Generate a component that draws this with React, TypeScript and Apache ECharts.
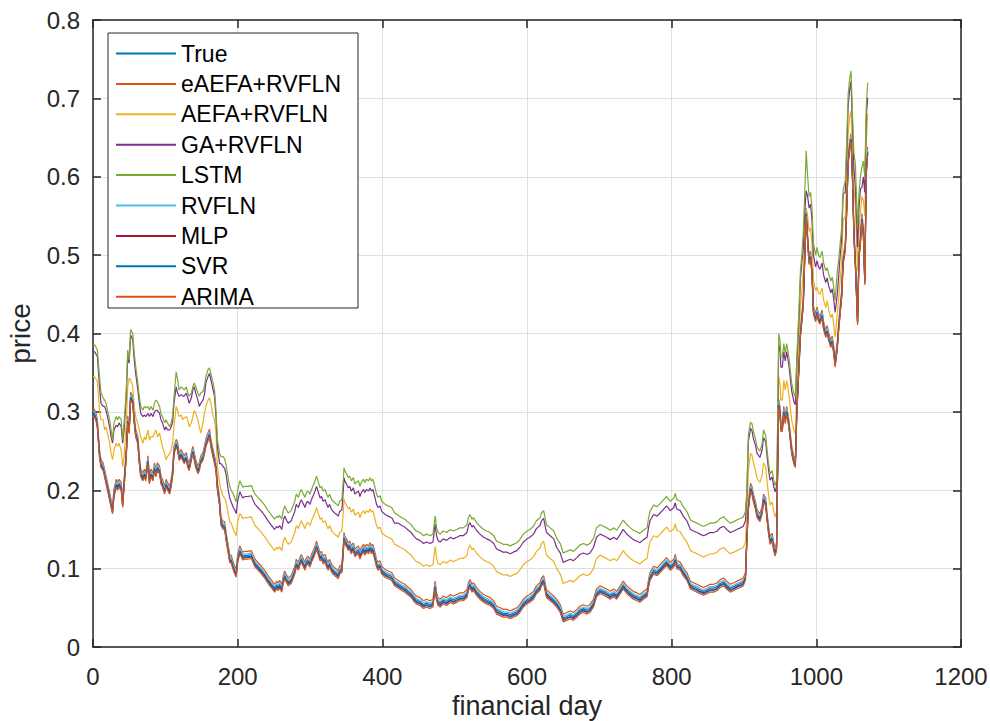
import React, { useEffect, useRef } from "react";
import * as echarts from "echarts";

// financial day of each sampled point
const days = [
  0,2,4,6,9,11,14,16,18,20,23,25,27,29,32,34,36,39,41,43,46,48,50,52,55,57,59,62,64,66,69,71,73,76,78,80,83,85,87,89,92,94,96,99,101,103,106,108,110,112,115,117,119,122,124,126,129,131,133,136,138,140,142,145,147,149,152,154,156,159,161,163,166,168,170,172,175,177,180,
  182,184,187,189,191,194,196,198,200,203,205,207,210,214,219,221,224,228,233,238,242,247,251,254,256,258,261,263,265,268,270,274,279,281,284,286,288,291,293,295,297,300,302,304,307,309,311,314,316,318,321,323,325,327,330,332,334,337,339,341,344,346,347,348,351,353,355,357,360,362,364,367,369,371,374,376,378,381,383,385,387,390,392,394,397,399,404,408,413,417,
  422,427,431,436,440,443,447,452,457,461,466,470,473,475,477,480,484,489,494,498,503,507,512,517,519,521,524,526,530,535,540,544,549,554,558,563,567,572,577,581,586,590,595,600,604,609,613,618,620,623,625,627,632,637,641,646,648,650,655,660,664,669,673,678,683,687,692,696,701,706,710,715,720,724,729,733,738,743,747,752,756,761,766,768,770,775,780,784,789,793,798,803,805,807,812,816,821,826,830,835,839,844,849,853,858,863,867,872,876,881,886,890,895,899,902,
  904,906,909,911,913,916,918,922,925,927,930,932,934,936,939,941,943,945,946,948,950,951,953,955,957,959,962,964,966,969,971,973,976,978,980,982,984,986,988,990,992,994,996,999,1001,1003,1005,1008,1010,1013,1015,1017,1020,1022,1024,1026,1029,1031,1033,1035,1037,1040,1042,1044,1046,1048,1050,1052,1054,1057,1059,1061,1063,1065,1067,1069,1071,
];

const trueVals = [
  .3,.298,.294,.285,.247,.234,.23,.222,.213,.205,.192,.183,.175,.196,.209,.205,.209,.205,.183,.209,.247,.29,.277,.32,.315,.29,.273,.264,.239,.222,.217,.222,.217,.239,.213,.222,.217,.23,.222,.23,.226,.213,.209,.2,.209,.205,.2,.209,.222,.251,.26,.256,.243,.247,.243,.239,.243,.234,.23,.243,.251,.243,.234,.226,.23,.239,.243,.251,.26,.268,.273,.26,.247,.239,.23,.205,.185,.16,.155,
  .155,.141,.124,.113,.112,.103,.098,.094,.113,.124,.12,.116,.117,.117,.118,.113,.107,.103,.098,.092,.086,.08,.075,.079,.077,.08,.075,.086,.092,.086,.083,.086,.098,.107,.103,.109,.113,.107,.103,.109,.111,.107,.113,.117,.124,.13,.124,.115,.117,.111,.113,.107,.103,.107,.1,.098,.096,.094,.092,.098,.1,.124,.141,.137,.132,.128,.13,.124,.128,.12,.122,.124,.117,.122,.126,.122,.126,.124,.128,.124,.126,.115,.107,.103,.105,.098,.094,.092,.09,.083,
  .08,.077,.075,.071,.068,.064,.06,.058,.054,.056,.054,.056,.079,.064,.058,.056,.06,.058,.062,.06,.062,.064,.064,.068,.077,.081,.075,.077,.071,.066,.062,.06,.058,.054,.047,.045,.043,.043,.041,.043,.045,.049,.056,.06,.062,.066,.073,.077,.083,.086,.077,.068,.064,.06,.056,.049,.043,.037,.039,.041,.039,.043,.047,.049,.047,.049,.056,.069,.073,.071,.069,.066,.069,.066,.073,.079,.073,.069,.066,.064,.062,.066,.069,.081,.09,.098,.096,.1,.105,.109,.103,.107,.113,.105,.103,.096,.09,.079,.077,.075,.073,.071,.073,.075,.075,.077,.081,.083,.079,.075,.077,.079,.081,.083,.09,
  .14,.179,.204,.2,.19,.18,.17,.165,.174,.19,.185,.165,.149,.136,.14,.128,.121,.128,.2,.311,.3,.28,.28,.302,.29,.302,.285,.268,.251,.238,.234,.302,.36,.4,.42,.44,.5,.555,.52,.493,.5,.48,.43,.42,.429,.42,.417,.425,.41,.4,.405,.396,.387,.392,.379,.362,.385,.41,.43,.45,.493,.51,.56,.62,.64,.65,.6,.527,.49,.416,.5,.52,.548,.53,.467,.607,.633,
];

const eaefaVals = [
  .305,.303,.299,.29,.252,.239,.235,.227,.218,.21,.197,.188,.18,.201,.214,.21,.214,.21,.188,.214,.252,.295,.282,.325,.32,.295,.278,.269,.244,.227,.222,.227,.222,.244,.218,.227,.222,.235,.227,.235,.231,.218,.214,.205,.214,.21,.205,.214,.227,.256,.265,.261,.248,.252,.248,.244,.248,.239,.235,.248,.256,.248,.239,.231,.235,.244,.248,.256,.265,.273,.278,.265,.252,.244,.235,.21,.19,.165,.16,
  .16,.146,.129,.118,.117,.108,.103,.099,.118,.129,.125,.121,.122,.122,.123,.118,.112,.108,.103,.097,.091,.085,.08,.084,.082,.085,.08,.091,.097,.091,.088,.091,.103,.112,.108,.114,.118,.112,.108,.114,.116,.112,.118,.122,.129,.135,.129,.12,.122,.116,.118,.112,.108,.112,.105,.103,.101,.099,.097,.103,.105,.129,.146,.142,.137,.133,.135,.129,.133,.125,.127,.129,.122,.127,.131,.127,.131,.129,.133,.129,.131,.12,.112,.108,.11,.103,.099,.097,.095,.088,
  .085,.082,.08,.076,.073,.069,.065,.063,.059,.061,.059,.061,.084,.069,.063,.061,.065,.063,.067,.065,.067,.069,.069,.073,.082,.086,.08,.082,.076,.071,.067,.065,.063,.059,.052,.05,.048,.048,.046,.048,.05,.054,.061,.065,.067,.071,.078,.082,.088,.091,.082,.073,.069,.065,.061,.054,.048,.042,.044,.046,.044,.048,.052,.054,.052,.054,.061,.074,.078,.076,.074,.071,.074,.071,.078,.084,.078,.074,.071,.069,.067,.071,.074,.086,.095,.103,.101,.105,.11,.114,.108,.112,.118,.11,.108,.101,.095,.084,.082,.08,.078,.076,.078,.08,.08,.082,.086,.088,.084,.08,.082,.084,.086,.088,.095,
  .145,.184,.209,.205,.195,.185,.175,.17,.179,.195,.19,.17,.154,.141,.145,.133,.126,.133,.205,.316,.305,.285,.285,.307,.295,.307,.29,.273,.256,.243,.239,.307,.365,.405,.425,.445,.505,.56,.525,.498,.505,.485,.435,.425,.434,.425,.422,.43,.415,.405,.41,.401,.392,.397,.384,.367,.39,.415,.435,.455,.498,.515,.565,.625,.645,.655,.605,.532,.495,.421,.505,.525,.553,.535,.472,.612,.638,
];

const aefaVals = [
  .345,.345,.342,.339,.302,.29,.29,.277,.281,.273,.26,.247,.239,.251,.26,.256,.26,.251,.23,.243,.286,.332,.343,.341,.332,.307,.294,.285,.277,.268,.26,.268,.264,.277,.264,.268,.268,.273,.277,.268,.273,.264,.256,.247,.239,.243,.247,.251,.26,.281,.307,.302,.294,.296,.29,.292,.294,.29,.281,.286,.294,.302,.298,.29,.281,.273,.286,.298,.307,.315,.318,.311,.294,.29,.273,.23,.209,.2,.192,
  .19,.185,.17,.16,.158,.15,.146,.142,.16,.17,.168,.164,.165,.165,.166,.161,.155,.151,.146,.14,.134,.128,.123,.127,.125,.128,.123,.134,.14,.134,.131,.134,.146,.155,.151,.157,.161,.155,.151,.157,.159,.155,.161,.165,.172,.178,.172,.163,.165,.159,.161,.155,.151,.155,.148,.146,.144,.142,.14,.146,.148,.172,.189,.185,.18,.176,.178,.172,.176,.168,.17,.172,.165,.17,.174,.17,.174,.172,.176,.172,.174,.163,.155,.151,.153,.146,.142,.14,.138,.131,
  .129,.126,.124,.12,.117,.113,.109,.107,.103,.105,.103,.105,.128,.113,.107,.105,.109,.107,.111,.109,.111,.113,.113,.117,.126,.13,.124,.126,.12,.115,.111,.109,.107,.103,.096,.094,.092,.092,.09,.092,.094,.098,.105,.109,.111,.115,.122,.126,.132,.135,.126,.117,.113,.109,.1,.093,.087,.081,.083,.085,.083,.087,.091,.093,.091,.093,.1,.113,.117,.115,.113,.11,.113,.11,.117,.123,.117,.113,.11,.108,.106,.11,.113,.125,.134,.142,.14,.144,.149,.153,.147,.151,.157,.149,.147,.14,.134,.123,.121,.119,.117,.115,.117,.119,.119,.121,.125,.127,.123,.119,.121,.123,.125,.127,.134,
  .17,.225,.247,.245,.235,.225,.215,.21,.219,.235,.23,.21,.194,.181,.185,.173,.166,.173,.2,.345,.335,.315,.315,.34,.328,.34,.323,.306,.289,.276,.272,.33,.39,.435,.455,.48,.53,.56,.55,.53,.535,.515,.468,.455,.459,.452,.45,.458,.443,.433,.442,.43,.42,.425,.412,.395,.425,.445,.47,.49,.544,.55,.595,.655,.675,.684,.635,.585,.561,.48,.53,.555,.575,.57,.55,.645,.68,
];

const gaVals = [
  .377,.377,.374,.371,.332,.311,.307,.307,.302,.294,.281,.268,.26,.277,.283,.281,.286,.281,.26,.277,.32,.371,.362,.398,.392,.366,.349,.328,.311,.298,.294,.296,.294,.298,.294,.298,.294,.3,.302,.302,.298,.29,.286,.277,.281,.277,.277,.281,.286,.311,.332,.324,.32,.322,.32,.32,.324,.318,.311,.318,.328,.332,.324,.315,.307,.311,.315,.322,.337,.345,.349,.341,.328,.32,.294,.256,.234,.234,.23,
  .228,.22,.2,.19,.185,.178,.175,.17,.186,.198,.194,.19,.192,.192,.193,.188,.182,.178,.173,.167,.161,.155,.15,.154,.152,.155,.15,.161,.167,.161,.158,.161,.173,.182,.178,.184,.188,.182,.178,.184,.186,.182,.188,.192,.199,.205,.199,.19,.192,.186,.188,.182,.178,.182,.175,.173,.171,.169,.167,.173,.175,.199,.216,.212,.207,.203,.205,.199,.203,.195,.197,.199,.192,.197,.201,.197,.201,.199,.203,.199,.201,.19,.182,.178,.18,.173,.169,.167,.165,.158,
  .158,.155,.153,.149,.146,.142,.138,.136,.132,.134,.132,.134,.157,.142,.136,.134,.138,.136,.14,.138,.14,.142,.142,.146,.155,.159,.153,.155,.149,.144,.14,.138,.136,.132,.125,.123,.121,.121,.119,.121,.123,.127,.134,.138,.14,.144,.151,.155,.161,.164,.155,.146,.142,.138,.127,.12,.114,.108,.11,.112,.11,.114,.118,.12,.118,.12,.127,.14,.144,.142,.14,.137,.14,.137,.144,.15,.144,.14,.137,.135,.133,.137,.14,.152,.161,.169,.167,.171,.176,.18,.174,.178,.184,.176,.174,.167,.161,.15,.148,.146,.144,.142,.144,.146,.146,.148,.152,.154,.15,.146,.148,.15,.152,.154,.161,
  .195,.262,.279,.276,.266,.257,.247,.242,.251,.267,.262,.242,.226,.213,.217,.205,.198,.205,.24,.387,.377,.357,.357,.377,.365,.377,.36,.343,.326,.313,.309,.36,.42,.47,.49,.51,.555,.582,.575,.56,.565,.545,.5,.485,.493,.485,.482,.49,.475,.465,.471,.461,.452,.457,.444,.427,.45,.475,.5,.52,.578,.58,.63,.69,.71,.722,.665,.61,.586,.51,.56,.585,.586,.6,.58,.675,.701,
];

const lstmVals = [
  .386,.386,.383,.379,.345,.324,.318,.315,.311,.302,.29,.277,.264,.286,.294,.29,.294,.29,.264,.286,.328,.379,.366,.405,.4,.375,.358,.337,.32,.307,.302,.307,.305,.307,.302,.307,.302,.311,.315,.313,.307,.298,.294,.286,.29,.286,.281,.286,.294,.32,.351,.341,.328,.332,.33,.328,.332,.324,.32,.324,.332,.337,.332,.324,.32,.324,.326,.332,.345,.354,.356,.349,.337,.328,.302,.264,.247,.243,.243,
  .24,.232,.215,.205,.2,.195,.19,.185,.2,.212,.208,.204,.205,.205,.206,.201,.195,.191,.186,.18,.174,.168,.163,.167,.165,.168,.163,.174,.18,.174,.171,.174,.186,.195,.191,.197,.201,.195,.191,.197,.199,.195,.201,.205,.212,.218,.212,.203,.205,.199,.201,.195,.191,.195,.188,.186,.184,.182,.18,.186,.188,.212,.229,.225,.22,.216,.218,.212,.216,.208,.21,.212,.205,.21,.214,.21,.214,.212,.216,.212,.214,.203,.195,.191,.193,.186,.182,.18,.178,.171,
  .168,.165,.163,.159,.156,.152,.148,.146,.142,.144,.142,.144,.167,.152,.146,.144,.148,.146,.15,.148,.15,.152,.152,.156,.165,.169,.163,.165,.159,.154,.15,.148,.146,.142,.135,.133,.131,.131,.129,.131,.133,.137,.144,.148,.15,.154,.161,.165,.171,.174,.165,.156,.152,.148,.139,.132,.126,.12,.122,.124,.122,.126,.13,.132,.13,.132,.139,.152,.156,.154,.152,.149,.152,.149,.156,.162,.156,.152,.149,.147,.145,.149,.152,.164,.173,.181,.179,.183,.188,.192,.186,.19,.196,.188,.186,.179,.173,.162,.16,.158,.156,.154,.156,.158,.158,.16,.164,.166,.162,.158,.16,.162,.164,.166,.173,
  .2,.27,.287,.285,.275,.265,.255,.25,.259,.277,.27,.25,.234,.221,.225,.213,.206,.213,.25,.4,.39,.37,.37,.387,.375,.387,.37,.353,.336,.323,.319,.37,.43,.48,.5,.53,.58,.633,.6,.575,.58,.56,.515,.5,.51,.5,.497,.505,.49,.48,.484,.476,.467,.472,.459,.442,.48,.495,.515,.535,.582,.595,.645,.705,.725,.735,.68,.63,.616,.535,.58,.6,.612,.62,.6,.69,.72,
];

const rvflnVals = [
  .302,.3,.296,.287,.249,.236,.232,.224,.215,.207,.194,.185,.177,.198,.211,.207,.211,.207,.185,.211,.249,.292,.279,.322,.317,.292,.275,.266,.241,.224,.219,.224,.219,.241,.215,.224,.219,.232,.224,.232,.228,.215,.211,.202,.211,.207,.202,.211,.224,.253,.262,.258,.245,.249,.245,.241,.245,.236,.232,.245,.253,.245,.236,.228,.232,.241,.245,.253,.262,.27,.275,.262,.249,.241,.232,.207,.187,.162,.157,
  .157,.143,.126,.115,.114,.105,.1,.096,.115,.126,.122,.118,.119,.119,.12,.115,.109,.105,.1,.094,.088,.082,.077,.081,.079,.082,.077,.088,.094,.088,.085,.088,.1,.109,.105,.111,.115,.109,.105,.111,.113,.109,.115,.119,.126,.132,.126,.117,.119,.113,.115,.109,.105,.109,.102,.1,.098,.096,.094,.1,.102,.126,.143,.139,.134,.13,.132,.126,.13,.122,.124,.126,.119,.124,.128,.124,.128,.126,.13,.126,.128,.117,.109,.105,.107,.1,.096,.094,.092,.085,
  .082,.079,.077,.073,.07,.066,.062,.06,.056,.058,.056,.058,.081,.066,.06,.058,.062,.06,.064,.062,.064,.066,.066,.07,.079,.083,.077,.079,.073,.068,.064,.062,.06,.056,.049,.047,.045,.045,.043,.045,.047,.051,.058,.062,.064,.068,.075,.079,.085,.088,.079,.07,.066,.062,.058,.051,.045,.039,.041,.043,.041,.045,.049,.051,.049,.051,.058,.071,.075,.073,.071,.068,.071,.068,.075,.081,.075,.071,.068,.066,.064,.068,.071,.083,.092,.1,.098,.102,.107,.111,.105,.109,.115,.107,.105,.098,.092,.081,.079,.077,.075,.073,.075,.077,.077,.079,.083,.085,.081,.077,.079,.081,.083,.085,.092,
  .142,.181,.206,.202,.192,.182,.172,.167,.176,.192,.187,.167,.151,.138,.142,.13,.123,.13,.202,.313,.302,.282,.282,.304,.292,.304,.287,.27,.253,.24,.236,.304,.362,.402,.422,.442,.502,.557,.522,.495,.502,.482,.432,.422,.431,.422,.419,.427,.412,.402,.407,.398,.389,.394,.381,.364,.387,.412,.432,.452,.495,.512,.562,.622,.642,.652,.602,.529,.492,.418,.502,.522,.55,.532,.469,.609,.635,
];

const mlpVals = [
  .298,.296,.292,.283,.245,.232,.228,.22,.211,.203,.19,.181,.173,.194,.207,.203,.207,.203,.181,.207,.245,.288,.275,.318,.313,.288,.271,.262,.237,.22,.215,.22,.215,.237,.211,.22,.215,.228,.22,.228,.224,.211,.207,.198,.207,.203,.198,.207,.22,.249,.258,.254,.241,.245,.241,.237,.241,.232,.228,.241,.249,.241,.232,.224,.228,.237,.241,.249,.258,.266,.271,.258,.245,.237,.228,.203,.183,.158,.153,
  .153,.139,.122,.111,.11,.101,.096,.092,.111,.122,.118,.114,.115,.115,.116,.111,.105,.101,.096,.09,.084,.078,.073,.077,.075,.078,.073,.084,.09,.084,.081,.084,.096,.105,.101,.107,.111,.105,.101,.107,.109,.105,.111,.115,.122,.128,.122,.113,.115,.109,.111,.105,.101,.105,.098,.096,.094,.092,.09,.096,.098,.122,.139,.135,.13,.126,.128,.122,.126,.118,.12,.122,.115,.12,.124,.12,.124,.122,.126,.122,.124,.113,.105,.101,.103,.096,.092,.09,.088,.081,
  .078,.075,.073,.069,.066,.062,.058,.056,.052,.054,.052,.054,.077,.062,.056,.054,.058,.056,.06,.058,.06,.062,.062,.066,.075,.079,.073,.075,.069,.064,.06,.058,.056,.052,.045,.043,.041,.041,.039,.041,.043,.047,.054,.058,.06,.064,.071,.075,.081,.084,.075,.066,.062,.058,.054,.047,.041,.035,.037,.039,.037,.041,.045,.047,.045,.047,.054,.067,.071,.069,.067,.064,.067,.064,.071,.077,.071,.067,.064,.062,.06,.064,.067,.079,.088,.096,.094,.098,.103,.107,.101,.105,.111,.103,.101,.094,.088,.077,.075,.073,.071,.069,.071,.073,.073,.075,.079,.081,.077,.073,.075,.077,.079,.081,.088,
  .138,.177,.202,.198,.188,.178,.168,.163,.172,.188,.183,.163,.147,.134,.138,.126,.119,.126,.198,.309,.298,.278,.278,.3,.288,.3,.283,.266,.249,.236,.232,.3,.358,.398,.418,.438,.498,.553,.518,.491,.498,.478,.428,.418,.427,.418,.415,.423,.408,.398,.403,.394,.385,.39,.377,.36,.383,.408,.428,.448,.491,.508,.558,.618,.638,.648,.598,.525,.488,.414,.498,.518,.546,.528,.465,.605,.631,
];

const svrVals = [
  .297,.295,.291,.282,.244,.231,.227,.219,.21,.202,.189,.18,.172,.193,.206,.202,.206,.202,.18,.206,.244,.287,.274,.317,.312,.287,.27,.261,.236,.219,.214,.219,.214,.236,.21,.219,.214,.227,.219,.227,.223,.21,.206,.197,.206,.202,.197,.206,.219,.248,.257,.253,.24,.244,.24,.236,.24,.231,.227,.24,.248,.24,.231,.223,.227,.236,.24,.248,.257,.265,.27,.257,.244,.236,.227,.202,.182,.157,.152,
  .152,.138,.121,.11,.109,.1,.095,.091,.11,.121,.117,.113,.114,.114,.115,.11,.104,.1,.095,.089,.083,.077,.072,.076,.074,.077,.072,.083,.089,.083,.08,.083,.095,.104,.1,.106,.11,.104,.1,.106,.108,.104,.11,.114,.121,.127,.121,.112,.114,.108,.11,.104,.1,.104,.097,.095,.093,.091,.089,.095,.097,.121,.138,.134,.129,.125,.127,.121,.125,.117,.119,.121,.114,.119,.123,.119,.123,.121,.125,.121,.123,.112,.104,.1,.102,.095,.091,.089,.087,.08,
  .077,.074,.072,.068,.065,.061,.057,.055,.051,.053,.051,.053,.076,.061,.055,.053,.057,.055,.059,.057,.059,.061,.061,.065,.074,.078,.072,.074,.068,.063,.059,.057,.055,.051,.044,.042,.04,.04,.038,.04,.042,.046,.053,.057,.059,.063,.07,.074,.08,.083,.074,.065,.061,.057,.053,.046,.04,.034,.036,.038,.036,.04,.044,.046,.044,.046,.053,.066,.07,.068,.066,.063,.066,.063,.07,.076,.07,.066,.063,.061,.059,.063,.066,.078,.087,.095,.093,.097,.102,.106,.1,.104,.11,.102,.1,.093,.087,.076,.074,.072,.07,.068,.07,.072,.072,.074,.078,.08,.076,.072,.074,.076,.078,.08,.087,
  .137,.176,.201,.197,.187,.177,.167,.162,.171,.187,.182,.162,.146,.133,.137,.125,.118,.125,.197,.308,.297,.277,.277,.299,.287,.299,.282,.265,.248,.235,.231,.299,.357,.397,.417,.437,.497,.552,.517,.49,.497,.477,.427,.417,.426,.417,.414,.422,.407,.397,.402,.393,.384,.389,.376,.359,.382,.407,.427,.447,.49,.507,.557,.617,.637,.647,.597,.524,.487,.413,.497,.517,.545,.527,.464,.604,.63,
];

const arimaVals = [
  .295,.293,.289,.28,.242,.229,.225,.217,.208,.2,.187,.178,.17,.191,.204,.2,.204,.2,.178,.204,.242,.285,.272,.315,.31,.285,.268,.259,.234,.217,.212,.217,.212,.234,.208,.217,.212,.225,.217,.225,.221,.208,.204,.195,.204,.2,.195,.204,.217,.246,.255,.251,.238,.242,.238,.234,.238,.229,.225,.238,.246,.238,.229,.221,.225,.234,.238,.246,.255,.263,.268,.255,.242,.234,.225,.2,.18,.155,.15,
  .15,.136,.119,.108,.107,.098,.093,.089,.108,.119,.115,.111,.112,.112,.113,.108,.102,.098,.093,.087,.081,.075,.07,.074,.072,.075,.07,.081,.087,.081,.078,.081,.093,.102,.098,.104,.108,.102,.098,.104,.106,.102,.108,.112,.119,.125,.119,.11,.112,.106,.108,.102,.098,.102,.095,.093,.091,.089,.087,.093,.095,.119,.136,.132,.127,.123,.125,.119,.123,.115,.117,.119,.112,.117,.121,.117,.121,.119,.123,.119,.121,.11,.102,.098,.1,.093,.089,.087,.085,.078,
  .075,.072,.07,.066,.063,.059,.055,.053,.049,.051,.049,.051,.074,.059,.053,.051,.055,.053,.057,.055,.057,.059,.059,.063,.072,.076,.07,.072,.066,.061,.057,.055,.053,.049,.042,.04,.038,.038,.036,.038,.04,.044,.051,.055,.057,.061,.068,.072,.078,.081,.072,.063,.059,.055,.051,.044,.038,.032,.034,.036,.034,.038,.042,.044,.042,.044,.051,.064,.068,.066,.064,.061,.064,.061,.068,.074,.068,.064,.061,.059,.057,.061,.064,.076,.085,.093,.091,.095,.1,.104,.098,.102,.108,.1,.098,.091,.085,.074,.072,.07,.068,.066,.068,.07,.07,.072,.076,.078,.074,.07,.072,.074,.076,.078,.085,
  .135,.174,.199,.195,.185,.175,.165,.16,.169,.185,.18,.16,.144,.131,.135,.123,.116,.123,.195,.306,.295,.275,.275,.297,.285,.297,.28,.263,.246,.233,.229,.297,.355,.395,.415,.435,.495,.55,.515,.488,.495,.475,.425,.415,.424,.415,.412,.42,.405,.395,.4,.391,.382,.387,.374,.357,.38,.405,.425,.445,.488,.505,.555,.615,.635,.645,.595,.522,.485,.411,.495,.515,.543,.525,.462,.602,.628,
];

const seriesNames = ["True", "eAEFA+RVFLN", "AEFA+RVFLN", "GA+RVFLN", "LSTM", "RVFLN", "MLP", "SVR", "ARIMA"];
const seriesColors = ["#0072BD", "#D95319", "#EDB120", "#7E2F8E", "#77AC30", "#4DBEEE", "#A2142F", "#0072BD", "#D95319"];
const xMin = 0, xMax = 1200, xStep = 200;
const yMin = 0, yMax = 0.8, yStep = 0.1;

const FONT = '"Liberation Sans", Arial, Helvetica, sans-serif';
const INK = "#262626";

export default function App() {
  const ref = useRef<HTMLDivElement>(null);
  useEffect(() => {
    document.body.style.margin = "0";
    const chart = echarts.init(ref.current!, null, { renderer: "svg" });
    const allVals = [trueVals, eaefaVals, aefaVals, gaVals, lstmVals, rvflnVals, mlpVals, svrVals, arimaVals];
    const axisLine = { show: true, onZero: false, lineStyle: { color: INK, width: 1.5 } };
    const axisTick = { show: true, inside: true, length: 8, lineStyle: { color: INK, width: 1.5 } };
    const grid = { show: true, lineStyle: { color: "#e0e0e0", width: 1 } };
    chart.setOption({
      animation: false,
      backgroundColor: "#ffffff",
      textStyle: { fontFamily: FONT },
      grid: { left: 93, right: 29, top: 20, bottom: 74, containLabel: false, outerBoundsMode: "none" },
      xAxis: [
        {
          type: "value", min: xMin, max: xMax, interval: xStep, position: "bottom",
          name: "financial day", nameLocation: "middle", nameGap: 41,
          nameTextStyle: { fontSize: 27, color: INK, fontFamily: FONT, lineHeight: 27 },
          axisLine, axisTick,
          axisLabel: { color: INK, fontSize: 24, margin: 17, fontFamily: FONT, formatter: (v: number) => String(v) },
          splitLine: grid,
        },
        {
          type: "value", min: xMin, max: xMax, interval: xStep, position: "top",
          axisLine, axisTick, axisLabel: { show: false }, splitLine: { show: false },
        },
      ],
      yAxis: [
        {
          type: "value", min: yMin, max: yMax, interval: yStep, position: "left",
          name: "price", nameLocation: "middle", nameGap: 59,
          nameTextStyle: { fontSize: 28, color: INK, fontFamily: FONT },
          axisLine, axisTick,
          axisLabel: { color: INK, fontSize: 24, margin: 13, fontFamily: FONT },
          splitLine: grid,
        },
        {
          type: "value", min: yMin, max: yMax, interval: yStep, position: "right",
          axisLine, axisTick, axisLabel: { show: false }, splitLine: { show: false },
        },
      ],
      graphic: [
        {
          type: "rect", z: 10,
          shape: { x: 108, y: 33, width: 250, height: 275 },
          style: { fill: "#ffffff", stroke: INK, lineWidth: 1 },
        },
      ],
      legend: {
        show: true, z: 20, orient: "vertical", left: 116, top: 42,
        padding: 0, itemWidth: 60, itemHeight: 2, itemGap: 7.4, icon: "rect",
        textStyle: { fontSize: 23, color: "#000", fontFamily: FONT, lineHeight: 23 },
        data: seriesNames,
        selectedMode: false,
      },
      series: seriesNames.map((name, k) => ({
        type: "line",
        name,
        data: days.map((d, i) => [d, allVals[k][i]]).filter((p) => p[1] !== undefined),
        showSymbol: false,
        symbol: "none",
        silent: true,
        color: seriesColors[k],
        lineStyle: { width: 1.2, color: seriesColors[k] },
        itemStyle: { color: seriesColors[k] },
        z: 2,
      })),
    });
    return () => chart.dispose();
  }, []);
  return <div ref={ref} style={{ position: "absolute", left: 0, top: 0, width: 990, height: 721 }} />;
}
